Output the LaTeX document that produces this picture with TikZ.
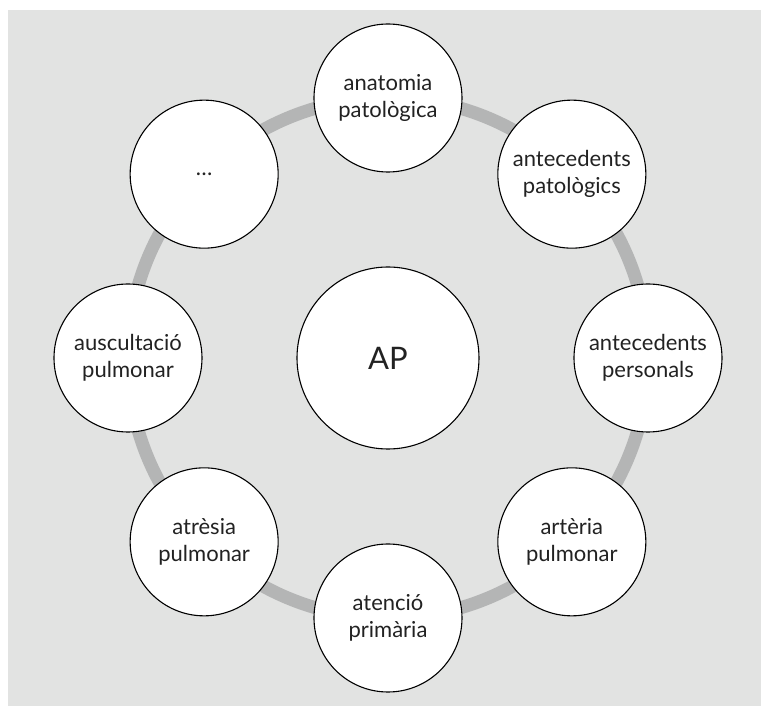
\documentclass[tikz,border=0pt]{standalone}
\usepackage{fontspec}
\setmainfont{Lato}
\usetikzlibrary{positioning}

\definecolor{bggray}{HTML}{E2E3E2}
\definecolor{ringgray}{HTML}{B4B5B5}
\definecolor{txtgray}{HTML}{222222}

\begin{document}
\begin{tikzpicture}[
    x=1pt, y=1pt,
    item/.style={circle, draw=black, line width=1.1pt, fill=white, minimum size=148pt, inner sep=0pt,
                 text=txtgray, align=center, font=\fontsize{22}{27}\selectfont},
    hub/.style={circle, draw=black, line width=1.1pt, fill=white, minimum size=182pt, inner sep=0pt,
                text=txtgray, font=\fontsize{31}{36}\selectfont},
    ring/.style={draw=ringgray, line width=13pt}
]

% Background
\useasboundingbox (-388,-348) rectangle (373,358);
\fill[bggray] (-380,-360) rectangle (385,348);

% Centre
\coordinate (c) at (0,0);
\draw[ring] (c) circle (260);
\node[hub] (ap) at (c) {AP};

% Ring of terms
\node[item] (anat) at (90:260) {anatomia\\patològica};
\node[item] (antpat) at (45:260) {antecedents\\patològics};
\node[item] (antpers) at (0:260) {antecedents\\personals};
\node[item] (artpul) at (-45:260) {artèria\\pulmonar};
\node[item] (atprim) at (-90:260) {atenció\\primària};
\node[item] (atrpul) at (-135:260) {atrèsia\\pulmonar};
\node[item] (auscpul) at (180:260) {auscultació\\pulmonar};
\node[item] (more) at (135:260) {…};

\end{tikzpicture}
\end{document}
